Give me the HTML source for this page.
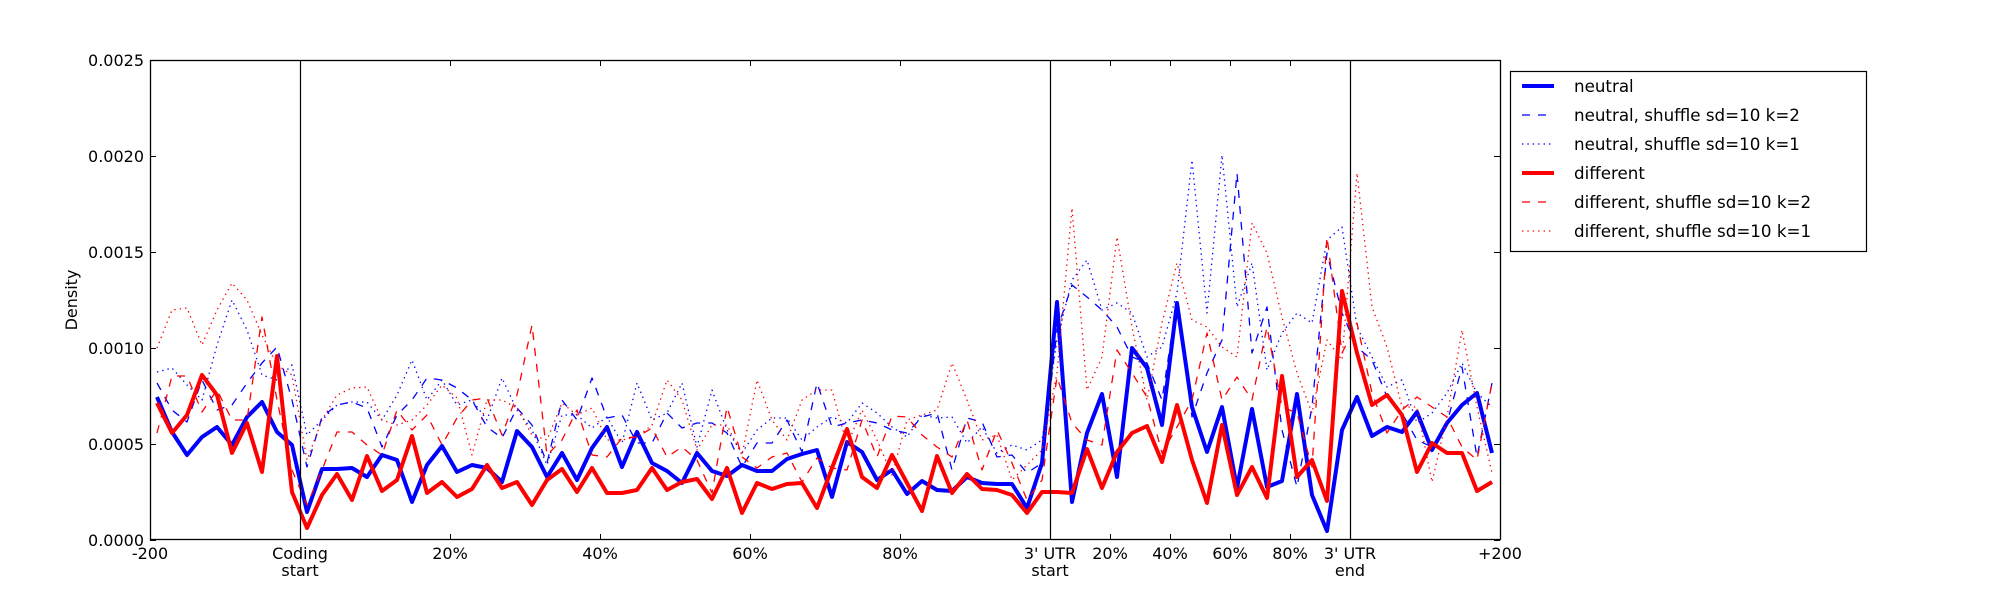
<!DOCTYPE html>
<html><head><meta charset="utf-8">
<style>
html,body{margin:0;padding:0;background:#fff;}
svg{display:block;font-family:"DejaVu Sans","Liberation Sans",sans-serif;}
</style></head>
<body>
<svg id="s" width="2000" height="600" viewBox="0 0 2000 600" xmlns="http://www.w3.org/2000/svg">
<defs><clipPath id="c"><rect x="150" y="60" width="1350" height="480"/></clipPath></defs>
<rect x="0" y="0" width="2000" height="600" fill="#fff"/>
<g id="lines" clip-path="url(#c)"></g>
<g stroke="#000" stroke-width="1.2">
<line x1="300.5" y1="60" x2="300.5" y2="540"/>
<line x1="1050.5" y1="60" x2="1050.5" y2="540"/>
<line x1="1350.5" y1="60" x2="1350.5" y2="540"/>
</g>
<rect x="150.5" y="60.5" width="1350" height="479" fill="none" stroke="#000" stroke-width="1.3"/>
<g id="ticks" stroke="#000" stroke-width="1"></g>
<g font-size="16" fill="#000" text-anchor="end">
<text x="144" y="546">0.0000</text>
<text x="144" y="450">0.0005</text>
<text x="144" y="354">0.0010</text>
<text x="144" y="258">0.0015</text>
<text x="144" y="162">0.0020</text>
<text x="144" y="66">0.0025</text>
</g>
<g font-size="16" fill="#000" text-anchor="middle">
<text x="150" y="559">-200</text>
<text x="300" y="559">Coding</text><text x="300" y="576">start</text>
<text x="450" y="559">20%</text>
<text x="600" y="559">40%</text>
<text x="750" y="559">60%</text>
<text x="900" y="559">80%</text>
<text x="1050" y="559">3' UTR</text><text x="1050" y="576">start</text>
<text x="1110" y="559">20%</text>
<text x="1170" y="559">40%</text>
<text x="1230" y="559">60%</text>
<text x="1290" y="559">80%</text>
<text x="1350" y="559">3' UTR</text><text x="1350" y="576">end</text>
<text x="1500" y="559">+200</text>
</g>
<text x="0" y="0" font-size="16" text-anchor="middle" transform="translate(77,300) rotate(-90)">Density</text>
<rect x="1510.5" y="71.5" width="356" height="180" fill="#fff" stroke="#000" stroke-width="1.2"/>
<g>
<line x1="1522" y1="86" x2="1554" y2="86" stroke="#0000ff" stroke-width="4"/>
<line x1="1522" y1="115" x2="1554" y2="115" stroke="#0000ff" stroke-width="1.3" stroke-dasharray="8,8"/>
<line x1="1522" y1="144" x2="1554" y2="144" stroke="#0000ff" stroke-width="1.3" stroke-dasharray="1.4,4"/>
<line x1="1522" y1="173" x2="1554" y2="173" stroke="#ff0000" stroke-width="4"/>
<line x1="1522" y1="202" x2="1554" y2="202" stroke="#ff0000" stroke-width="1.3" stroke-dasharray="8,8"/>
<line x1="1522" y1="231" x2="1554" y2="231" stroke="#ff0000" stroke-width="1.3" stroke-dasharray="1.4,4"/>
</g>
<g font-size="16.7" fill="#000">
<text x="1574" y="92">neutral</text>
<text x="1574" y="121">neutral, shuffle sd=10 k=2</text>
<text x="1574" y="150">neutral, shuffle sd=10 k=1</text>
<text x="1574" y="179">different</text>
<text x="1574" y="208">different, shuffle sd=10 k=2</text>
<text x="1574" y="237">different, shuffle sd=10 k=1</text>
</g>
</svg>
<script>
var NS="http://www.w3.org/2000/svg";
var ns=[397,432,455,437,427,445,417,402,432,445,512,469,469,468,477,455,460,502,465,446,472,465,468,482,431,447,477,453,480,448,427,
467,432,463,471,483,453,471,476,465,471,471,459,454,450,497,442,452,480,470,494,481,490,491,477,483,484,484,508,463,302,
502,433,394,477,348,368,425,303,407,452,407,488,409,487,481,394,495,531,430,397,436,427,432,412,450,423,405,393,453];
var rs=[403,433,415,375,395,453,423,472,356,492,528,495,474,500,456,491,480,436,493,482,497,489,465,488,482,505,480,469,492,468,493,
493,490,468,490,482,479,499,468,513,483,489,484,483,508,468,429,477,488,455,483,511,456,493,474,489,490,495,513,492,492,
493,449,488,452,433,426,462,405,460,503,425,495,467,498,376,477,460,501,291,353,405,395,415,472,443,453,453,491,482];
var nd=[383,410,422,380,410,405,383,363,347,400,467,417,405,402,408,447,415,400,378,380,388,400,427,438,408,425,463,400,420,378,418,
415,443,443,413,428,423,423,433,467,443,443,420,452,383,427,423,420,423,430,433,417,413,470,418,422,457,455,473,463,330,
285,297,310,327,357,363,400,300,417,373,340,173,353,307,430,487,407,253,313,347,360,397,413,440,447,423,367,457,383];
var nt=[372,368,385,400,345,300,330,375,380,365,435,420,405,402,402,420,395,360,400,380,405,400,420,378,410,430,465,415,415,428,417,
443,383,420,413,383,447,390,430,453,430,418,418,440,427,417,423,403,413,427,437,415,418,417,443,427,453,445,450,440,340,
280,260,310,303,313,357,347,293,160,313,155,307,263,370,333,313,323,240,227,327,357,387,380,423,413,393,363,393,407];
var dd=[433,376,376,412,390,420,420,317,400,470,505,470,432,432,445,455,410,430,415,445,418,400,398,435,395,325,455,440,410,455,457,
438,437,428,457,447,460,493,407,457,468,457,453,482,458,468,470,420,457,416,417,435,447,457,420,470,430,463,500,480,377,
423,440,445,350,373,397,453,427,400,333,400,377,400,327,407,413,467,237,353,323,393,433,410,397,407,417,447,460,383];
var dt=[348,310,308,345,310,283,300,335,365,375,460,420,395,388,387,420,425,420,405,385,398,455,400,400,408,435,440,403,415,408,440,
440,437,425,380,400,450,425,425,455,380,420,440,400,390,390,445,410,440,475,420,415,410,363,400,440,435,480,465,450,373,
208,390,357,237,327,400,323,263,320,327,347,357,223,253,317,373,413,340,360,173,307,347,407,407,482,417,330,407,473];
function pl(a,col,w,dash){var p=document.createElementNS(NS,"polyline");
var s=[];for(var i=0;i<a.length;i++){s.push((157+15*i)+","+a[i]);}
p.setAttribute("points",s.join(" "));p.setAttribute("fill","none");p.setAttribute("stroke",col);
p.setAttribute("stroke-width",w);p.setAttribute("stroke-linejoin","round");if(dash)p.setAttribute("stroke-dasharray",dash);
document.getElementById("lines").appendChild(p);}
pl(ns,"#0000ff",4);
pl(nd,"#0000ff",1.3,"8,8");
pl(nt,"#0000ff",1.3,"1.4,4");
pl(rs,"#ff0000",4);
pl(dd,"#ff0000",1.3,"8,8");
pl(dt,"#ff0000",1.3,"1.4,4");
var t=document.getElementById("ticks");
function ln(x1,y1,x2,y2){var l=document.createElementNS(NS,"line");l.setAttribute("x1",x1);l.setAttribute("y1",y1);l.setAttribute("x2",x2);l.setAttribute("y2",y2);t.appendChild(l);}
[150,300,450,600,750,900,1050,1110,1170,1230,1290,1350,1500].forEach(function(x){ln(x+.5,540,x+.5,534);ln(x+.5,60,x+.5,66);});
for(var k=0;k<6;k++){var y=540-96*k+.5;ln(150,y,156,y);ln(1500,y,1494,y);}
</script>
</body></html>
